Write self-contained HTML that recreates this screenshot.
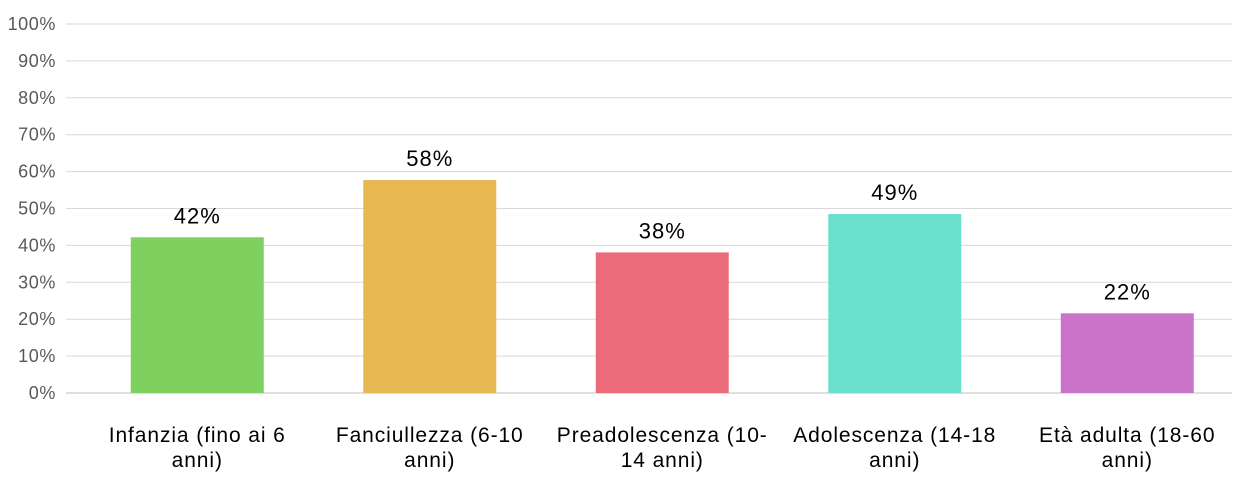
<!DOCTYPE html>
<html><head><meta charset="utf-8"><style>
body{margin:0;background:#fff;}
svg{display:block;font-family:"Liberation Sans",sans-serif;}
</style></head><body>
<svg id="chart" width="1243" height="485" viewBox="0 0 1243 485"></svg>
<script>
const categories=[["Infanzia (fino ai 6","anni)"],["Fanciullezza (6-10","anni)"],["Preadolescenza (10-","14 anni)"],["Adolescenza (14-18","anni)"],["Età adulta (18-60","anni)"]];
const values=[42.2,57.7,38.1,48.5,21.6];
const valueLabels=["42%","58%","38%","49%","22%"];
const colors=["#7ED05F","#E8B850","#EC6B7B","#6AE0CC","#C974C8"];
const yTicks=[0,10,20,30,40,50,60,70,80,90,100];
const NS="http://www.w3.org/2000/svg";
const svg=document.getElementById('chart');
const y0=393,y1=24,xL=66,xR=1232,bandStart=81,band=232.5,barW=133;
const yScale=v=>y0-(v/100)*(y0-y1);
const xCenter=i=>bandStart+band*(i+0.5);
function mk(t,a){const e=document.createElementNS(NS,t);for(const k in a)e.setAttribute(k,a[k]);svg.appendChild(e);return e;}
yTicks.forEach(t=>{
  const l=mk('line',{x1:xL,x2:xR,y1:yScale(t),y2:yScale(t),stroke:t===0?'#bfbfbf':'#d9d9d9','stroke-width':1});
  
  
  const tx=mk('text',{x:56,y:yScale(t)+6,'text-anchor':'end','font-size':18,'letter-spacing':0.6,fill:'#595959'});
  tx.textContent=t+'%';
  
  
});
values.forEach((v,i)=>{
  const cx=xCenter(i);
  const r=mk('rect',{x:cx-barW/2,y:yScale(v),width:barW,height:y0-yScale(v),fill:colors[i]});
  
  
  const t=mk('text',{x:cx,y:yScale(v)-14,'text-anchor':'middle','font-size':22,'letter-spacing':1,fill:'#000'});
  t.textContent=valueLabels[i];
  
  
  categories[i].forEach((line,j)=>{
    const c=mk('text',{x:cx,y:442+j*25,'text-anchor':'middle','font-size':21,'letter-spacing':0.9,fill:'#000'});
    c.textContent=line;
    
    
  });
});
</script>
</body></html>
